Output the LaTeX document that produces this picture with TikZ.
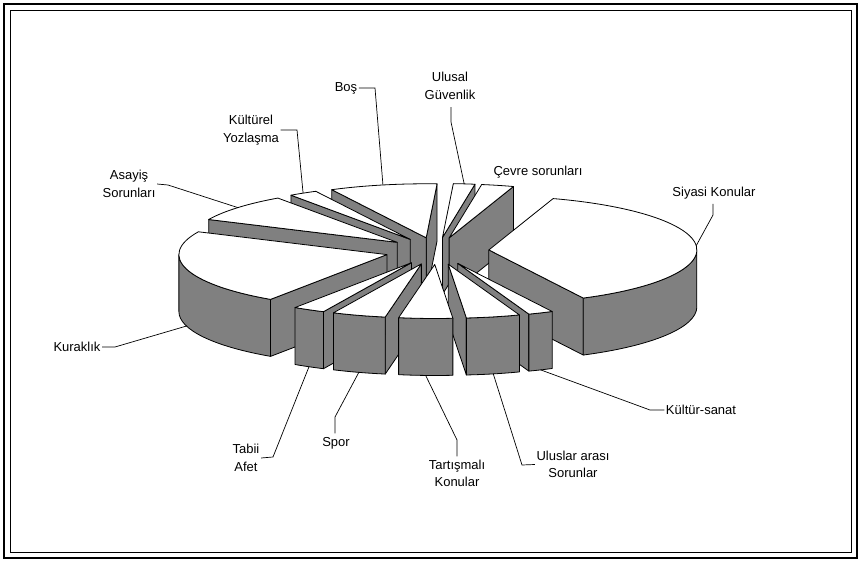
\documentclass[tikz,border=0pt]{standalone}
\usepackage{fontspec}
\setmainfont{Liberation Sans}
\usetikzlibrary{calc}
\definecolor{pgray}{HTML}{808080}
\tikzset{
  pieside/.style={fill=pgray, draw=black, line width=0.8pt, line join=round},
  pietop/.style={fill=white, draw=black, line width=0.8pt, line join=round},
  lbl/.style={font=\fontsize{13}{17.5}\selectfont, inner sep=1.5pt, align=center},
  leader/.style={draw=black, line width=0.7pt}
}
\newcommand\slsideface[1]{%
  \filldraw[pieside] ($(#1T)+(\slpa:208 and 54)$) arc[start angle=\slpa, end angle=\slpb, x radius=208, y radius=54] -- ++(0,-57) arc[start angle=\slpb, end angle=\slpa, x radius=208, y radius=54] -- cycle;%
}
\newcommand\pieslice[3]{%
  \pgfmathsetmacro\slmid{(#2+#3)/2}%
  \coordinate (#1T) at ($(C)+(\slmid:52 and 13.5)$);%
  \pgfmathtruncatemacro\slvs{cos(#2)>0}%
  \pgfmathtruncatemacro\slve{cos(#3)<0}%
  \ifnum\slvs=1
    \filldraw[pieside] (#1T) -- ($(#1T)+(#2:208 and 54)$) -- ($(#1T)+(#2:208 and 54)+(0,-57)$) -- ($(#1T)+(0,-57)$) -- cycle;%
  \fi
  \ifnum\slve=1
    \filldraw[pieside] (#1T) -- ($(#1T)+(#3:208 and 54)$) -- ($(#1T)+(#3:208 and 54)+(0,-57)$) -- ($(#1T)+(0,-57)$) -- cycle;%
  \fi
  \pgfmathsetmacro\slpa{max(#2,180)}%
  \pgfmathsetmacro\slpb{min(#3,360)}%
  \pgfmathtruncatemacro\slok{\slpa<\slpb}%
  \ifnum\slok=1 \slsideface{#1}\fi
  \pgfmathsetmacro\slpa{max(#2,-180)}%
  \pgfmathsetmacro\slpb{min(#3,0)}%
  \pgfmathtruncatemacro\slok{\slpa<\slpb}%
  \ifnum\slok=1 \slsideface{#1}\fi
  \filldraw[pietop] (#1T) -- ($(#1T)+(#2:208 and 54)$) arc[start angle=#2, end angle=#3, x radius=208, y radius=54] -- cycle;%
  \pgfmathtruncatemacro\slback{sin(\slmid)>0}%
  \ifnum\slback=1
    \coordinate (#1P) at ($(#1T)+(\slmid:208 and 54)$);%
  \else
    \coordinate (#1P) at ($(#1T)+(\slmid:208 and 54)+(0,-57)$);%
  \fi
}
\begin{document}
\begin{tikzpicture}[x=1pt,y=1pt]
\useasboundingbox (0,0) rectangle (861,562);
\draw[line width=2pt] (4,4) rectangle (857,558);
\draw[line width=0.8pt] (10,10) rectangle (851,552);
\coordinate (C) at (437,311);
\pieslice{ulusal}{81}{87}
\pieslice{bos}{87}{117}
\pieslice{cevre}{72}{81}
\pieslice{kult}{117}{125}
\pieslice{asayis}{125}{155}
\pieslice{siyasi}{-63}{72}
\pieslice{kurak}{155}{236}
\pieslice{tabii}{236}{245}
\pieslice{ks}{290}{297}
\pieslice{spor}{245}{260}
\pieslice{ulus}{275}{290}
\pieslice{tart}{260}{275}
% labels
\node[lbl] (lBos) at (346,474) {Boş};
\node[lbl] (lUlusal) at (450,476) {Ulusal\\Güvenlik};
\node[lbl] (lKult) at (251,432) {Kültürel\\Yozlaşma};
\node[lbl] (lAsayis) at (129,378) {Asayiş\\Sorunları};
\node[lbl] (lCevre) at (538,390) {Çevre sorunları};
\node[lbl] (lSiyasi) at (714,369) {Siyasi Konular};
\node[lbl] (lKurak) at (77,215) {Kuraklık};
\node[lbl] (lTabii) at (246,104) {Tabii\\Afet};
\node[lbl] (lSpor) at (336,119) {Spor};
\node[lbl] (lTart) at (457,88.5) {Tartışmalı\\Konular};
\node[lbl] (lUlus) at (573,97.5) {Uluslar arası\\Sorunlar};
\node[lbl] (lKs) at (701,152) {Kültür-sanat};
% leaders
\coordinate (bBos) at (375,474);
\coordinate (bUlusal) at (451,440);
\coordinate (bKult) at (297,432);
\coordinate (bAsayis) at (168,377);
\coordinate (bSiyasi) at (713,347);
\coordinate (bKurak) at (115,215);
\coordinate (bTabii) at (273,105);
\coordinate (bSpor) at (335,145);
\coordinate (bTart) at (457,122);
\coordinate (bUlus) at (522,97);
\coordinate (bKs) at (650,152);
\draw[leader] (lBos.east) -- (bBos) -- (bosP);
\draw[leader] (lUlusal.south) ++(1,-6) -- (bUlusal) -- (ulusalP);
\draw[leader] (lKult.east) -- (bKult) -- (kultP);
\draw[leader] (lAsayis.east) -- (bAsayis) -- (asayisP);
\draw[leader] (lSiyasi.south) ++(-1,-3) -- (bSiyasi) -- (siyasiP);
\draw[leader] (lKurak.east) -- (bKurak) -- (kurakP);
\draw[leader] (lTabii.east) -- (bTabii) -- (tabiiP);
\draw[leader] (lSpor.north) ++(-1,2) -- (bSpor) -- (sporP);
\draw[leader] (lTart.north) ++(0,2) -- (bTart) -- (tartP);
\draw[leader] (lUlus.west) -- (bUlus) -- (ulusP);
\draw[leader] (lKs.west) -- (bKs) -- (ksP);
\end{tikzpicture}
\end{document}
